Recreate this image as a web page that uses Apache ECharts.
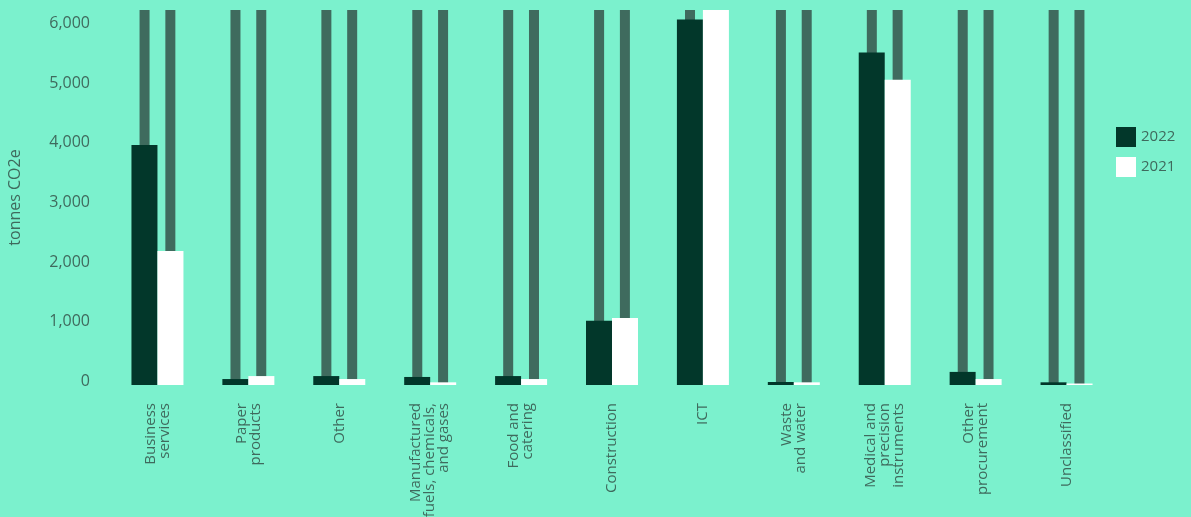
<!DOCTYPE html>
<html>
<head>
<meta charset="utf-8">
<script src="https://cdn.jsdelivr.net/npm/echarts@6/dist/echarts.min.js"></script>
<style>
html,body{margin:0;padding:0;background:#7BF1CD;}
#c{width:1191px;height:517px;}
</style>
</head>
<body>
<div id="c"></div>
<script>
const categories = ["Business\nservices","Paper\nproducts","Other","Manufactured\nfuels, chemicals,\nand gases","Food and\ncatering","Construction","ICT","Waste\nand water","Medical and\nprecision\ninstruments","Other\nprocurement","Unclassified"];
const values2022 = [4030, 100, 150, 135, 150, 1080, 6140, 50, 5585, 220, 45];
const values2021 = [2250, 150, 100, 45, 100, 1125, 6600, 45, 5130, 100, 25];
const axisMax = 6300;
const track = categories.map(() => axisMax);

const chart = echarts.init(document.getElementById('c'));
const textColor = '#3F6A5D';
const font = '"Open Sans", sans-serif';
chart.setOption({
  backgroundColor: '#7BF1CD',
  animation: false,
  textStyle: {fontFamily: font},
  grid: {left: 112, right: 79, top: 10, bottom: 132, outerBoundsMode: 'none', containLabel: false},
  legend: {
    orient: 'vertical', left: 1116, top: 127, padding: 0,
    itemWidth: 20, itemHeight: 20, itemGap: 10,
    data: ['2022', '2021'],
    icon: 'rect',
    textStyle: {color: textColor, fontSize: 15, fontFamily: font}
  },
  xAxis: [{
    type: 'category', data: categories,
    axisLine: {show: false}, axisTick: {show: false},
    axisLabel: {rotate: 90, interval: 0, color: textColor, fontSize: 15, lineHeight: 14, margin: 18, fontFamily: font}
  }, {
    type: 'category', data: categories, show: false
  }],
  yAxis: {
    type: 'value', min: 0, max: axisMax, interval: 1000,
    name: 'tonnes CO2e', nameLocation: 'middle', nameGap: 89,
    nameTextStyle: {color: textColor, fontSize: 16, fontFamily: font},
    splitLine: {show: false}, axisLine: {show: false}, axisTick: {show: false},
    axisLabel: {color: textColor, fontSize: 16, margin: 22, showMaxLabel: false, verticalAlign: 'bottom', lineHeight: 8, fontFamily: font,
      formatter: v => v.toLocaleString('en-US')}
  },
  series: [
    {type: 'bar', xAxisIndex: 1, data: track, barWidth: 10, barGap: '158%', itemStyle: {color: '#3F6B5E'}, z: 1, silent: true},
    {type: 'bar', xAxisIndex: 1, data: track, barWidth: 10, itemStyle: {color: '#3F6B5E'}, z: 1, silent: true},
    {name: '2022', type: 'bar', data: values2022, barWidth: 26, barGap: 0, itemStyle: {color: '#02372A'}, z: 3},
    {name: '2021', type: 'bar', data: values2021, barWidth: 26, itemStyle: {color: '#FFFFFF'}, z: 3}
  ]
});
</script>
</body>
</html>
